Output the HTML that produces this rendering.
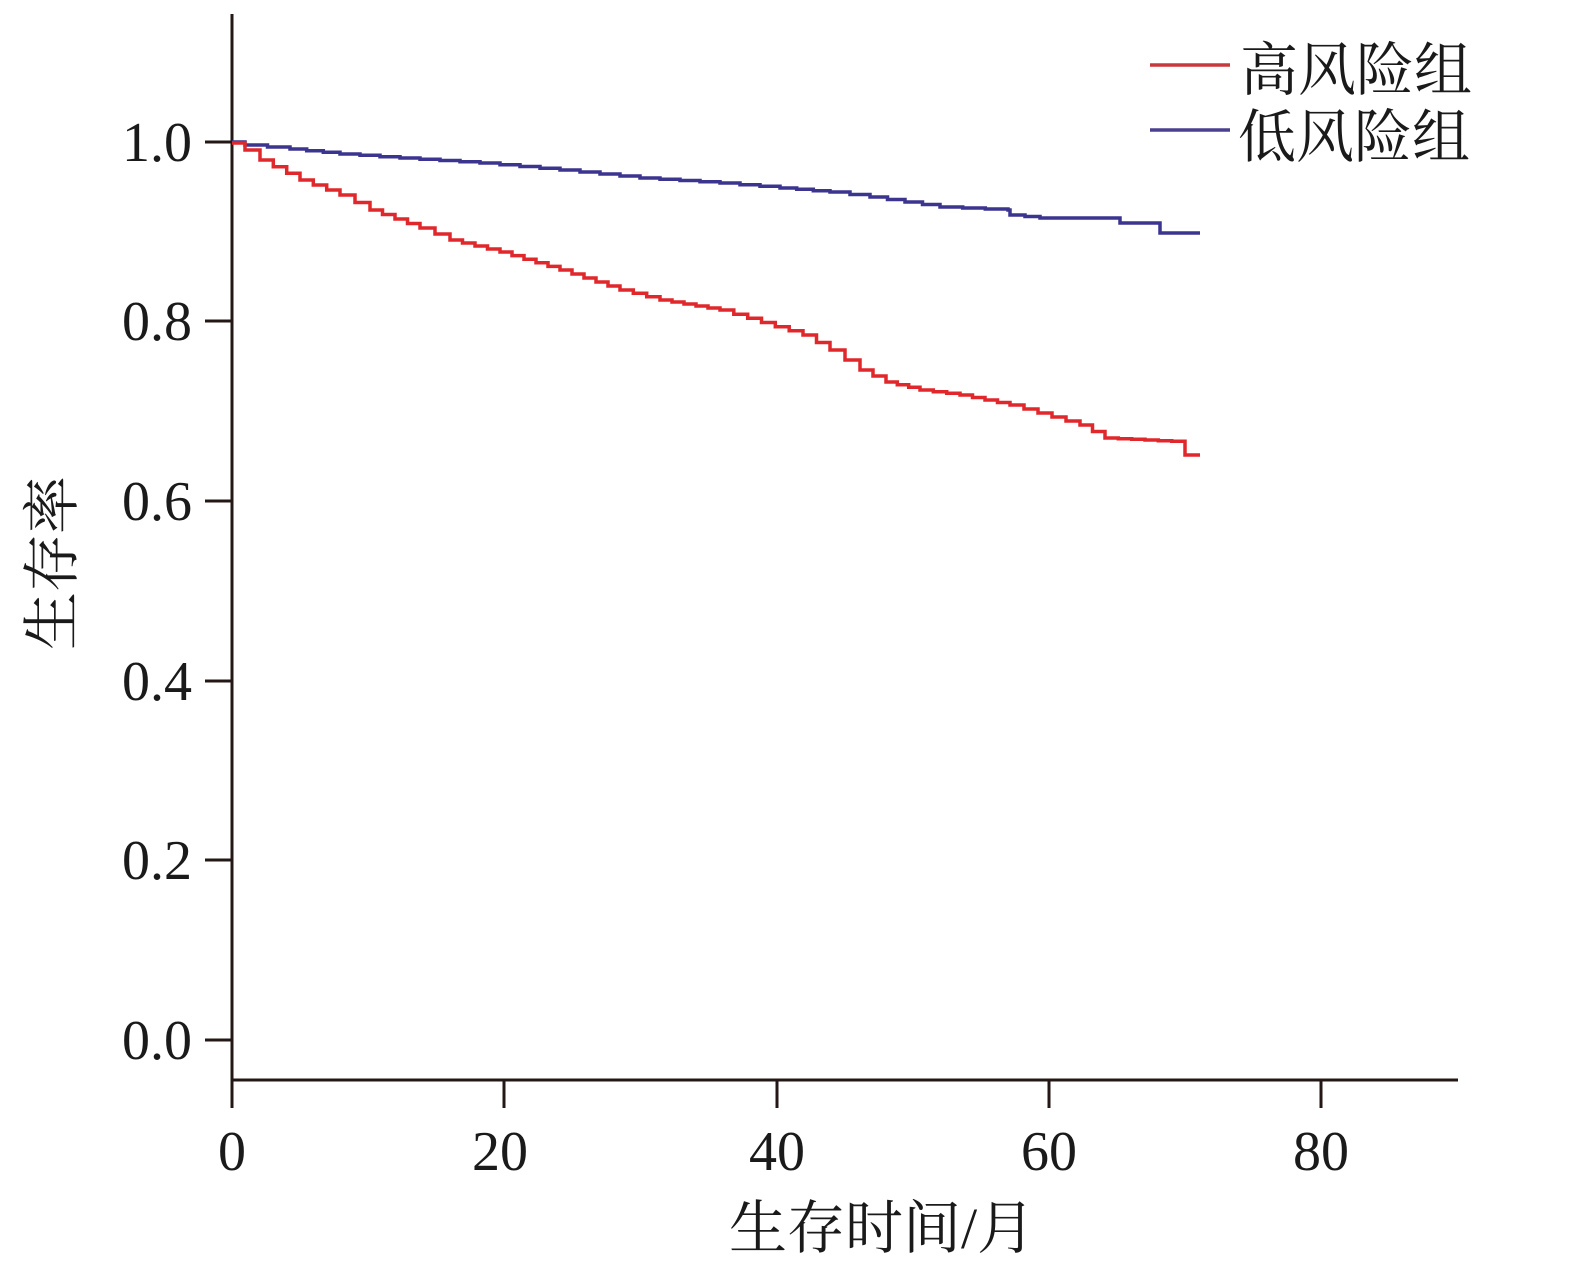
<!DOCTYPE html>
<html><head><meta charset="utf-8"><style>
body{margin:0;background:#fff;}
svg{display:block;}
text{font-family:"Liberation Serif","Noto Serif CJK SC",serif;fill:#1a1a1a;}
</style></head><body>
<svg id="s" width="1570" height="1268" viewBox="0 0 1570 1268" xmlns="http://www.w3.org/2000/svg">
<g stroke="#231815" stroke-width="3" fill="none">
<line x1="232" y1="14" x2="232" y2="1081"/>
<line x1="231" y1="1080" x2="1458" y2="1080"/>
<line x1="205" y1="142" x2="232" y2="142"/>
<line x1="205" y1="321" x2="232" y2="321"/>
<line x1="205" y1="501" x2="232" y2="501"/>
<line x1="205" y1="681" x2="232" y2="681"/>
<line x1="205" y1="860" x2="232" y2="860"/>
<line x1="205" y1="1040" x2="232" y2="1040"/>
<line x1="232" y1="1080" x2="232" y2="1108"/>
<line x1="504" y1="1080" x2="504" y2="1108"/>
<line x1="777" y1="1080" x2="777" y2="1108"/>
<line x1="1049" y1="1080" x2="1049" y2="1108"/>
<line x1="1321" y1="1080" x2="1321" y2="1108"/>
</g>
<g font-size="56" text-anchor="end">
<text x="192" y="161">1.0</text>
<text x="192" y="340">0.8</text>
<text x="192" y="520">0.6</text>
<text x="192" y="700">0.4</text>
<text x="192" y="879">0.2</text>
<text x="192" y="1059">0.0</text>
</g>
<g font-size="56" text-anchor="middle">
<text x="232" y="1170">0</text>
<text x="500" y="1170">20</text>
<text x="777" y="1170">40</text>
<text x="1049" y="1170">60</text>
<text x="1321" y="1170">80</text>
</g>
<text x="882" y="1248" font-size="58" text-anchor="middle">生存时间/月</text>
<text transform="translate(72,563) rotate(-90)" font-size="58" text-anchor="middle">生存率</text>
<line x1="1150" y1="65" x2="1230" y2="65" stroke="#c8383c" stroke-width="3.5"/>
<line x1="1150" y1="130" x2="1230" y2="130" stroke="#4a4090" stroke-width="3.5"/>
<text x="1240" y="90" font-size="58">高风险组</text>
<text x="1238" y="157" font-size="58">低风险组</text>
<path id="blue" fill="none" stroke="#3b3590" stroke-width="3.5" d=""/>
<path id="red" fill="none" stroke="#e0282c" stroke-width="3.5" d=""/>
</svg>
<script>
function steps(pts,stepw){
  var d="M"+pts[0][0]+","+pts[0][1];
  for(var i=1;i<pts.length;i++){
    var x0=pts[i-1][0],y0=pts[i-1][1],x1=pts[i][0],y1=pts[i][1];
    var n=Math.max(1,Math.round((x1-x0)/stepw));
    if(pts[i][2]) n=1;
    for(var k=1;k<=n;k++){
      var x=x0+(x1-x0)*k/n, y=y0+(y1-y0)*k/n;
      d+=" H"+x.toFixed(1)+" V"+y.toFixed(1);
    }
  }
  return d;
}
var red=[[232,143],[245,150],[260,160],[300,180],[340,195],[370,210],[420,228],[450,240],[500,252],[560,270],[620,290],[660,300],[720,310],[803,335],[830,350],[860,370],[886,382],[920,390],[960,395],[1010,405],[1080,425],[1105,438],[1185,442],[1185,455,1],[1200,455,1]];
var blue=[[232,142],[245,145],[290,149],[340,154],[400,158],[480,163],[560,170],[640,178],[720,183],[780,188],[830,192],[870,197],[940,207],[1008,210],[1010,215,1],[1040,218],[1118,218,1],[1120,223,1],[1157,223,1],[1160,233,1],[1200,233,1]];
document.getElementById("red").setAttribute("d",steps(red,13));
document.getElementById("blue").setAttribute("d",steps(blue,20));
</script>
</body></html>
